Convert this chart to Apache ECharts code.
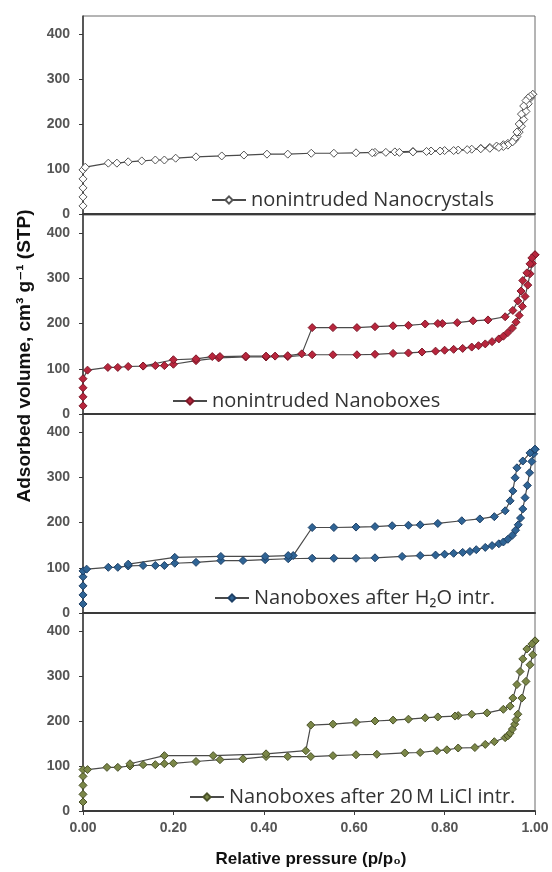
<!DOCTYPE html>
<html>
<head>
<meta charset="utf-8">
<script src="https://cdn.jsdelivr.net/npm/echarts@6/dist/echarts.min.js"></script>
<style>
  html, body { margin: 0; padding: 0; background: #fff; }
  #chart { width: 552px; height: 872px; }
</style>
</head>
<body>
<div id="chart"></div>
<script>
// N2 sorption isotherms: adsorbed volume vs relative pressure, four stacked panels.

const xTicks = [0, 0.2, 0.4, 0.6, 0.8, 1.0];
const yTicks = [0, 100, 200, 300, 400];

const panelNames = [
  'nonintruded Nanocrystals',
  'nonintruded Nanoboxes',
  'Nanoboxes after H\u2082O intr.',
  'Nanoboxes after 20\u2009M LiCl intr.'
];

// Panel 1 – nonintruded Nanocrystals
const crysAdsP = [0, 0, 0, 0, 0, 0.005, 0.056, 0.075, 0.10, 0.13, 0.16, 0.18, 0.205, 0.25, 0.307, 0.356, 0.407, 0.453, 0.505, 0.555, 0.604, 0.646, 0.69, 0.73, 0.77, 0.80, 0.83, 0.86, 0.88, 0.90, 0.915, 0.93, 0.94, 0.95, 0.955, 0.96, 0.965, 0.97, 0.975, 0.98, 0.985, 0.99, 0.995];
const crysAdsV = [18, 38, 58, 78, 98, 104, 113, 113, 116, 118, 120, 120, 124, 127, 129, 131, 133, 133, 135, 135, 136, 137, 138, 139, 140, 141, 142, 144, 146, 148, 151, 154, 157, 161, 165, 172, 182, 195, 210, 228, 245, 258, 266];
const crysDesP = [0.995, 0.99, 0.985, 0.98, 0.975, 0.97, 0.965, 0.96, 0.955, 0.95, 0.94, 0.93, 0.92, 0.90, 0.88, 0.85, 0.82, 0.79, 0.76, 0.73, 0.70, 0.67, 0.64];
const crysDesV = [266, 262, 258, 252, 240, 222, 200, 182, 168, 160, 153, 150, 148, 146, 145, 143, 141, 140, 139, 138, 137, 137, 136];

// Panel 2 – nonintruded Nanoboxes
const boxAdsP = [0, 0, 0, 0, 0.01, 0.055, 0.077, 0.10, 0.133, 0.16, 0.18, 0.20, 0.25, 0.30, 0.36, 0.405, 0.453, 0.507, 0.553, 0.606, 0.646, 0.686, 0.72, 0.75, 0.78, 0.80, 0.82, 0.84, 0.86, 0.875, 0.89, 0.905, 0.92, 0.93, 0.94, 0.95, 0.958, 0.965, 0.972, 0.978, 0.984, 0.989, 0.994, 1.0];
const boxAdsV = [18, 38, 58, 78, 97, 103, 103, 105, 106, 107, 107, 110, 118, 124, 126, 126, 127, 131, 131, 131, 132, 134, 135, 137, 139, 141, 143, 145, 148, 151, 155, 160, 166, 172, 180, 190, 203, 218, 238, 260, 285, 310, 333, 352];
const boxDesP = [1.0, 0.993, 0.989, 0.982, 0.973, 0.969, 0.962, 0.951, 0.934, 0.896, 0.863, 0.828, 0.795, 0.785, 0.757, 0.72, 0.686, 0.646, 0.606, 0.553, 0.507, 0.484, 0.453, 0.425, 0.405, 0.36, 0.303, 0.286, 0.25, 0.20, 0.133];
const boxDesV = [352, 345, 332, 312, 295, 272, 250, 229, 215, 208, 206, 202, 200, 200, 199, 196, 195, 193, 191, 191, 191, 133, 129, 128, 128, 128, 127, 127, 122, 120, 106];

// Panel 3 – Nanoboxes after H2O intrusion
const waterAdsP = [0, 0, 0, 0, 0, 0.008, 0.056, 0.077, 0.10, 0.133, 0.16, 0.18, 0.203, 0.25, 0.305, 0.354, 0.403, 0.454, 0.507, 0.555, 0.604, 0.646, 0.706, 0.746, 0.78, 0.80, 0.82, 0.84, 0.856, 0.87, 0.89, 0.905, 0.92, 0.93, 0.94, 0.95, 0.957, 0.963, 0.968, 0.973, 0.978, 0.983, 0.988, 0.993, 0.997, 1.0];
const waterAdsV = [20, 40, 60, 80, 93, 97, 101, 101, 104, 105, 105, 105, 110, 112, 116, 116, 118, 120, 121, 121, 121, 122, 125, 127, 128, 130, 132, 134, 136, 140, 145, 149, 153, 157, 163, 172, 183, 195, 210, 230, 255, 282, 310, 335, 352, 362];
const waterDesP = [1.0, 0.989, 0.973, 0.96, 0.956, 0.951, 0.945, 0.934, 0.91, 0.878, 0.838, 0.785, 0.746, 0.72, 0.684, 0.646, 0.604, 0.555, 0.507, 0.465, 0.454, 0.403, 0.305, 0.203, 0.10];
const waterDesV = [362, 354, 336, 321, 299, 270, 248, 226, 213, 208, 204, 198, 195, 194, 193, 191, 190, 189, 189, 127, 127, 125, 125, 123, 108];

// Panel 4 – Nanoboxes after 20 M LiCl intrusion
const liclAdsP = [0, 0, 0, 0, 0, 0.01, 0.053, 0.077, 0.104, 0.133, 0.16, 0.18, 0.20, 0.25, 0.303, 0.354, 0.405, 0.453, 0.504, 0.553, 0.604, 0.65, 0.712, 0.746, 0.783, 0.805, 0.83, 0.867, 0.89, 0.91, 0.934, 0.94, 0.945, 0.95, 0.955, 0.958, 0.962, 0.971, 0.98, 0.989, 0.995, 1.0];
const liclAdsV = [20, 37, 57, 77, 92, 92, 97, 97, 100, 103, 103, 105, 106, 110, 114, 116, 121, 121, 121, 123, 125, 126, 129, 130, 134, 136, 140, 141, 148, 154, 163, 167, 173, 182, 193, 203, 215, 251, 288, 325, 347, 378];
const liclDesP = [1.0, 0.993, 0.982, 0.973, 0.967, 0.96, 0.951, 0.945, 0.93, 0.894, 0.86, 0.83, 0.823, 0.785, 0.757, 0.72, 0.686, 0.646, 0.604, 0.553, 0.504, 0.493, 0.405, 0.288, 0.18, 0.104];
const liclDesV = [378, 371, 360, 338, 310, 281, 251, 233, 226, 218, 215, 212, 211, 209, 207, 204, 202, 200, 197, 193, 191, 134, 127, 123, 123, 105];

const panelData = [
  [crysAdsP, crysAdsV, crysDesP, crysDesV],
  [boxAdsP, boxAdsV, boxDesP, boxDesV],
  [waterAdsP, waterAdsV, waterDesP, waterDesV],
  [liclAdsP, liclAdsV, liclDesP, liclDesV]
];

const markerFill = ['#ffffff', '#b8263d', '#2f6495', '#7b8748'];
const markerEdge = ['#555555', '#7d1a2a', '#1e4066', '#4a5228'];

// Plot boxes (pixels)
const plotLeft = 83, plotWidth = 452;
const panelTops = [16, 215, 414, 613];
const panelHeights = [198, 199, 199, 198];
const legendPos = [[206, 185], [167, 386], [209, 583], [184, 782]];

const zip = (p, v) => p.map((x, i) => [x, v[i]]);

const grids = [], xAxes = [], yAxes = [], series = [], legends = [];
const last = panelNames.length - 1;

panelNames.forEach((name, i) => {
  grids.push({
    left: plotLeft, width: plotWidth, top: panelTops[i], height: panelHeights[i],
    show: true, borderColor: '#6a6a6a', borderWidth: 1, containLabel: false
  });
  xAxes.push({
    gridIndex: i, type: 'value', min: 0, max: 1, interval: 0.2,
    axisLine: { show: true, onZero: false, lineStyle: { color: '#3a3a3a', width: 2 } },
    axisTick: { show: i === last, inside: false, length: 4, lineStyle: { color: '#3a3a3a' } },
    axisLabel: {
      show: i === last, margin: 10, color: '#555', fontSize: 14, fontWeight: 'bold',
      fontFamily: '"Liberation Sans", Arial, sans-serif',
      formatter: v => v.toFixed(2)
    },
    splitLine: { show: false }
  });
  yAxes.push({
    gridIndex: i, type: 'value', min: 0, max: 440, interval: 100,
    axisLine: { show: true, lineStyle: { color: '#3a3a3a', width: 1.5 } },
    axisTick: { show: true, inside: false, length: 4, lineStyle: { color: '#3a3a3a' } },
    axisLabel: {
      margin: 13, color: '#555', fontSize: 14, fontWeight: 'bold',
      fontFamily: '"Liberation Sans", Arial, sans-serif',
      showMaxLabel: false,
      formatter: v => (yTicks.indexOf(v) >= 0 ? String(v) : '')
    },
    splitLine: { show: false }
  });
  const [ap, av, dp, dv] = panelData[i];
  const common = {
    name, type: 'line', xAxisIndex: i, yAxisIndex: i,
    symbol: 'diamond', symbolSize: 8, showAllSymbol: true,
    lineStyle: { color: '#4a4a4a', width: 1.2 },
    itemStyle: { color: markerFill[i], borderColor: markerEdge[i], borderWidth: 1 },
    emphasis: { disabled: true }, animation: false, z: 3
  };
  series.push(Object.assign({}, common, { data: zip(ap, av) }));
  series.push(Object.assign({}, common, { data: zip(dp, dv) }));
  legends.push({
    data: [name], left: legendPos[i][0], top: legendPos[i][1],
    itemWidth: 34, itemHeight: 9, itemGap: 0, selectedMode: false,
    textStyle: { fontSize: 20, color: '#333', fontFamily: '"Open Sans", "DejaVu Sans", sans-serif' }
  });
});

const chart = echarts.init(document.getElementById('chart'), null, { renderer: 'canvas' });
chart.setOption({
  backgroundColor: '#ffffff',
  animation: false,
  grid: grids,
  xAxis: xAxes,
  yAxis: yAxes,
  legend: legends,
  series: series,
  graphic: [
    {
      type: 'text', x: 25, y: 356, rotation: Math.PI / 2,
      style: {
        text: 'Adsorbed volume, cm\u00b3 g\u207b\u00b9 (STP)',
        fontSize: 19, fontWeight: 'bold', fontFamily: '"Liberation Sans", "DejaVu Sans", sans-serif',
        fill: '#111', textAlign: 'center', textVerticalAlign: 'middle', align: 'center', verticalAlign: 'middle'
      }
    },
    {
      type: 'text', x: 311, y: 859,
      style: {
        text: 'Relative pressure (p/p\u2080)',
        fontSize: 17, fontWeight: 'bold', fontFamily: '"Liberation Sans", "DejaVu Sans", sans-serif',
        fill: '#111', textAlign: 'center', textVerticalAlign: 'middle', align: 'center', verticalAlign: 'middle'
      }
    }
  ]
});
</script>
</body>
</html>
